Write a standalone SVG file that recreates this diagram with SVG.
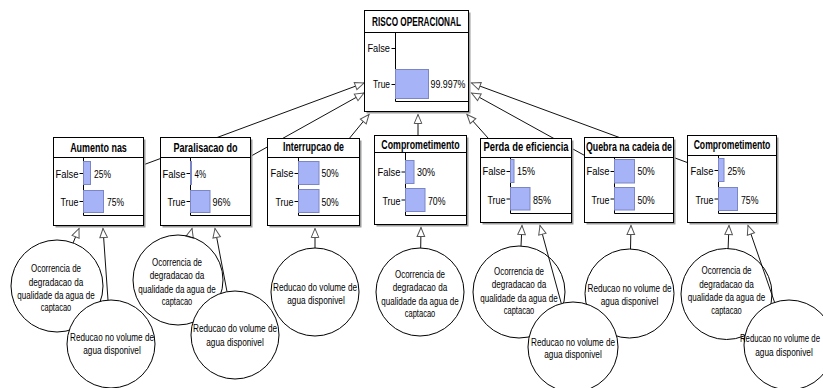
<svg xmlns="http://www.w3.org/2000/svg" width="823" height="388" viewBox="0 0 823 388">
<style>
text{font-family:"Liberation Sans Narrow","Liberation Sans",Arial,sans-serif;fill:#000}
.t{font-weight:bold;font-size:12px;text-anchor:middle}
.l{font-size:11.5px;text-anchor:end}
.p{font-size:11.5px}
.c{font-size:10px;text-anchor:middle}
.sh{fill:#9c9c9c}
.bx{fill:#fff;stroke:#000;stroke-width:1}
.ln{stroke:#000;stroke-width:1;fill:none}
.bar{fill:#a7b3f7;stroke:#7a86c6;stroke-width:1}
.ca{fill:none;stroke:#000;stroke-width:1}
.cb{fill:#fff;stroke:#000;stroke-width:1}
.cn{stroke:#111;stroke-width:1;fill:none;marker-end:url(#arr)}
</style>
<defs>
<marker id="arr" viewBox="-10.5 -5 12 10" refX="0" refY="0" markerWidth="12" markerHeight="10" markerUnits="userSpaceOnUse" orient="auto">
<path d="M0,0 L-9,-3.8 L-9,3.8 Z" fill="#fff" stroke="#555" stroke-width="1"/>
</marker>
</defs>
<rect width="823" height="388" fill="#fff"/>
<g id="connectors">
<path class="cn" d="M98.5,181.5 L364,83"/>
<path class="cn" d="M205.5,181.5 L364,93"/>
<path class="cn" d="M313.5,182 L369,114.5"/>
<path class="cn" d="M418,180 L418,114.5"/>
<path class="cn" d="M526,180.5 L467,114.5"/>
<path class="cn" d="M629,180 L471.5,93"/>
<path class="cn" d="M732,179 L471.5,83"/>
<path class="cn" d="M73.1,242.9 L79,228.5"/>
<path class="cn" d="M108,300.1 L103,228.5"/>
<path class="cn" d="M189.8,236.6 L192,228.5"/>
<path class="cn" d="M227,291.7 L215,228.5"/>
<path class="cn" d="M315,248 L315,228.5"/>
<path class="cn" d="M420.7,248 L421,227.5"/>
<path class="cn" d="M521,246 L522,225.5"/>
<path class="cn" d="M561.3,303.5 L540,225.5"/>
<path class="cn" d="M630.5,249 L631,225.5"/>
<path class="cn" d="M728.1,248.5 L729,225.5"/>
<path class="cn" d="M774.6,302.4 L748,225.5"/>
</g>
<g id="risco-operacional">
<rect class="sh" x="366.5" y="12.5" width="104" height="101"/>
<rect class="bx" x="364.5" y="10.5" width="104" height="101"/>
<path class="ln" d="M364.5,32.5 H468.5 M395.5,32.5 V101.5 H468.5 M391.5,48.5 H395.5 M391.5,84.5 H395.5"/>
<rect class="bar" x="395.5" y="69.5" width="33" height="29"/>
<text class="t" x="416.5" y="26" textLength="89" lengthAdjust="spacingAndGlyphs">RISCO OPERACIONAL</text>
<text class="l" x="390" y="52" textLength="22.6" lengthAdjust="spacingAndGlyphs">False</text>
<text class="l" x="390" y="88" textLength="17" lengthAdjust="spacingAndGlyphs">True</text>
<text class="p" x="430.5" y="88" textLength="35" lengthAdjust="spacingAndGlyphs">99.997%</text>
</g>
<g id="aumento-nas">
<rect class="sh" x="55.5" y="139.5" width="90" height="88"/>
<rect class="bx" x="53.5" y="137.5" width="90" height="88"/>
<path class="ln" d="M53.5,157.5 H143.5 M83.5,157.5 V215.5 H143.5 M79.5,173.5 H83.5 M79.5,201.5 H83.5"/>
<rect class="bar" x="83.5" y="161.5" width="7" height="23"/>
<rect class="bar" x="83.5" y="190.5" width="20" height="22"/>
<text class="t" x="98.5" y="152" textLength="56.7" lengthAdjust="spacingAndGlyphs">Aumento nas</text>
<text class="l" x="78.5" y="177.5" textLength="23" lengthAdjust="spacingAndGlyphs">False</text>
<text class="l" x="78.5" y="206" textLength="18" lengthAdjust="spacingAndGlyphs">True</text>
<text class="p" x="94" y="177.5" textLength="17" lengthAdjust="spacingAndGlyphs">25%</text>
<text class="p" x="107" y="206" textLength="17" lengthAdjust="spacingAndGlyphs">75%</text>
</g>
<g id="paralisacao-do">
<rect class="sh" x="162.5" y="139.5" width="90" height="88"/>
<rect class="bx" x="160.5" y="137.5" width="90" height="88"/>
<path class="ln" d="M160.5,157.5 H250.5 M190.5,157.5 V215.5 H250.5 M186.5,173.5 H190.5 M186.5,201.5 H190.5"/>
<rect class="bar" x="190.5" y="161.5" width="1" height="23"/>
<rect class="bar" x="190.5" y="190.5" width="19.5" height="22"/>
<text class="t" x="205.5" y="152" textLength="64" lengthAdjust="spacingAndGlyphs">Paralisacao do</text>
<text class="l" x="185.5" y="177.5" textLength="23" lengthAdjust="spacingAndGlyphs">False</text>
<text class="l" x="185.5" y="206" textLength="18" lengthAdjust="spacingAndGlyphs">True</text>
<text class="p" x="194.5" y="177.5" textLength="11.5" lengthAdjust="spacingAndGlyphs">4%</text>
<text class="p" x="212.5" y="206" textLength="18" lengthAdjust="spacingAndGlyphs">96%</text>
</g>
<g id="interrupcao-de">
<rect class="sh" x="269.5" y="140.5" width="92" height="87"/>
<rect class="bx" x="267.5" y="138.5" width="92" height="87"/>
<path class="ln" d="M267.5,157.5 H359.5 M298.5,157.5 V215.5 H359.5 M294.5,173.5 H298.5 M294.5,201.5 H298.5"/>
<rect class="bar" x="298.5" y="161.5" width="20.5" height="23"/>
<rect class="bar" x="298.5" y="189.5" width="20.5" height="23"/>
<text class="t" x="313.5" y="151" textLength="61" lengthAdjust="spacingAndGlyphs">Interrupcao de</text>
<text class="l" x="293.5" y="177" textLength="23" lengthAdjust="spacingAndGlyphs">False</text>
<text class="l" x="293.5" y="206" textLength="18" lengthAdjust="spacingAndGlyphs">True</text>
<text class="p" x="321.5" y="177" textLength="17.3" lengthAdjust="spacingAndGlyphs">50%</text>
<text class="p" x="321.5" y="206" textLength="17.3" lengthAdjust="spacingAndGlyphs">50%</text>
</g>
<g id="comprometimento-1">
<rect class="sh" x="376.5" y="137.5" width="92" height="89"/>
<rect class="bx" x="374.5" y="135.5" width="92" height="89"/>
<path class="ln" d="M374.5,152.5 H466.5 M405.5,152.5 V215.5 H466.5 M401.5,172 H405.5 M401.5,200 H405.5"/>
<rect class="bar" x="405.5" y="160.5" width="8.5" height="23"/>
<rect class="bar" x="405.5" y="188.5" width="19.5" height="23"/>
<text class="t" x="420.5" y="148.5" textLength="78.3" lengthAdjust="spacingAndGlyphs">Comprometimento</text>
<text class="l" x="400.5" y="176" textLength="23" lengthAdjust="spacingAndGlyphs">False</text>
<text class="l" x="400.5" y="204.5" textLength="18" lengthAdjust="spacingAndGlyphs">True</text>
<text class="p" x="417" y="176" textLength="18" lengthAdjust="spacingAndGlyphs">30%</text>
<text class="p" x="428" y="204.5" textLength="17.5" lengthAdjust="spacingAndGlyphs">70%</text>
</g>
<g id="perda-de-eficiencia">
<rect class="sh" x="482.5" y="140.5" width="91" height="84"/>
<rect class="bx" x="480.5" y="138.5" width="91" height="84"/>
<path class="ln" d="M480.5,157.5 H571.5 M510.5,157.5 V213.5 H571.5 M506.5,171.5 H510.5 M506.5,199 H510.5"/>
<rect class="bar" x="510.5" y="159.5" width="3.5" height="23"/>
<rect class="bar" x="510.5" y="187.5" width="19.5" height="22.5"/>
<text class="t" x="526" y="151" textLength="85" lengthAdjust="spacingAndGlyphs">Perda de eficiencia</text>
<text class="l" x="505.5" y="175" textLength="23" lengthAdjust="spacingAndGlyphs">False</text>
<text class="l" x="505.5" y="203.5" textLength="18" lengthAdjust="spacingAndGlyphs">True</text>
<text class="p" x="517" y="175" textLength="18" lengthAdjust="spacingAndGlyphs">15%</text>
<text class="p" x="533" y="203.5" textLength="18" lengthAdjust="spacingAndGlyphs">85%</text>
</g>
<g id="quebra-na-cadeia-de">
<rect class="sh" x="586.5" y="139.5" width="89" height="85"/>
<rect class="bx" x="584.5" y="137.5" width="89" height="85"/>
<path class="ln" d="M584.5,157.5 H673.5 M614.5,157.5 V213.5 H673.5 M610.5,171.5 H614.5 M610.5,199 H614.5"/>
<rect class="bar" x="614.5" y="159.5" width="20" height="23.5"/>
<rect class="bar" x="614.5" y="187.5" width="20" height="22.5"/>
<text class="t" x="629" y="151" textLength="86" lengthAdjust="spacingAndGlyphs">Quebra na cadeia de</text>
<text class="l" x="609.5" y="175" textLength="23" lengthAdjust="spacingAndGlyphs">False</text>
<text class="l" x="609.5" y="203.5" textLength="18" lengthAdjust="spacingAndGlyphs">True</text>
<text class="p" x="637.5" y="175" textLength="17.3" lengthAdjust="spacingAndGlyphs">50%</text>
<text class="p" x="637.5" y="203.5" textLength="17.3" lengthAdjust="spacingAndGlyphs">50%</text>
</g>
<g id="comprometimento-2">
<rect class="sh" x="689.5" y="137.5" width="89" height="87"/>
<rect class="bx" x="687.5" y="135.5" width="89" height="87"/>
<path class="ln" d="M687.5,155.5 H776.5 M718.5,155.5 V213.5 H776.5 M714.5,170.5 H718.5 M714.5,199 H718.5"/>
<rect class="bar" x="718.5" y="158.5" width="5.5" height="23"/>
<rect class="bar" x="718.5" y="187.5" width="19" height="23"/>
<text class="t" x="732" y="148.5" textLength="76.7" lengthAdjust="spacingAndGlyphs">Comprometimento</text>
<text class="l" x="713.5" y="175" textLength="23" lengthAdjust="spacingAndGlyphs">False</text>
<text class="l" x="713.5" y="203.5" textLength="18" lengthAdjust="spacingAndGlyphs">True</text>
<text class="p" x="727.5" y="175" textLength="17.5" lengthAdjust="spacingAndGlyphs">25%</text>
<text class="p" x="741" y="203.5" textLength="17.5" lengthAdjust="spacingAndGlyphs">75%</text>
</g>
<g id="ocorrencia-1">
<circle class="ca" cx="57" cy="286" r="46"/>
<text class="c" x="56" y="271.8" textLength="50" lengthAdjust="spacingAndGlyphs">Ocorrencia de</text>
<text class="c" x="56" y="285.5" textLength="54.5" lengthAdjust="spacingAndGlyphs">degradacao da</text>
<text class="c" x="56" y="299" textLength="77.3" lengthAdjust="spacingAndGlyphs">qualidade da agua de</text>
<text class="c" x="56" y="311" textLength="30.5" lengthAdjust="spacingAndGlyphs">captacao</text>
</g>
<g id="ocorrencia-2">
<circle class="ca" cx="178" cy="280" r="45"/>
<text class="c" x="177" y="265.5" textLength="50" lengthAdjust="spacingAndGlyphs">Ocorrencia de</text>
<text class="c" x="177" y="279" textLength="54.5" lengthAdjust="spacingAndGlyphs">degradacao da</text>
<text class="c" x="177" y="292.5" textLength="77.3" lengthAdjust="spacingAndGlyphs">qualidade da agua de</text>
<text class="c" x="177" y="305" textLength="30.5" lengthAdjust="spacingAndGlyphs">captacao</text>
</g>
<g id="ocorrencia-4">
<circle class="ca" cx="420" cy="292" r="44"/>
<text class="c" x="420" y="277.5" textLength="50" lengthAdjust="spacingAndGlyphs">Ocorrencia de</text>
<text class="c" x="420" y="291" textLength="54.5" lengthAdjust="spacingAndGlyphs">degradacao da</text>
<text class="c" x="420" y="304.5" textLength="77.3" lengthAdjust="spacingAndGlyphs">qualidade da agua de</text>
<text class="c" x="420" y="316.5" textLength="30.5" lengthAdjust="spacingAndGlyphs">captacao</text>
</g>
<g id="ocorrencia-5">
<circle class="ca" cx="519" cy="292" r="46"/>
<text class="c" x="519" y="274.5" textLength="50" lengthAdjust="spacingAndGlyphs">Ocorrencia de</text>
<text class="c" x="519" y="288" textLength="54.5" lengthAdjust="spacingAndGlyphs">degradacao da</text>
<text class="c" x="519" y="301.5" textLength="77.3" lengthAdjust="spacingAndGlyphs">qualidade da agua de</text>
<text class="c" x="519" y="313.5" textLength="30.5" lengthAdjust="spacingAndGlyphs">captacao</text>
</g>
<g id="ocorrencia-7">
<circle class="ca" cx="726.5" cy="294" r="45.5"/>
<text class="c" x="726.5" y="274" textLength="50" lengthAdjust="spacingAndGlyphs">Ocorrencia de</text>
<text class="c" x="726.5" y="287.5" textLength="54.5" lengthAdjust="spacingAndGlyphs">degradacao da</text>
<text class="c" x="726.5" y="301" textLength="77.3" lengthAdjust="spacingAndGlyphs">qualidade da agua de</text>
<text class="c" x="726.5" y="313.5" textLength="30.5" lengthAdjust="spacingAndGlyphs">captacao</text>
</g>
<g id="reducao-3">
<circle class="ca" cx="315" cy="292" r="44"/>
<text class="c" x="315" y="290.5" textLength="84" lengthAdjust="spacingAndGlyphs">Reducao do volume de</text>
<text class="c" x="316" y="303.5" textLength="57.5" lengthAdjust="spacingAndGlyphs">agua disponivel</text>
</g>
<g id="reducao-6">
<circle class="ca" cx="629.5" cy="293.5" r="44.5"/>
<text class="c" x="629.5" y="291.5" textLength="84" lengthAdjust="spacingAndGlyphs">Reducao no volume de</text>
<text class="c" x="629.5" y="305" textLength="57.5" lengthAdjust="spacingAndGlyphs">agua disponivel</text>
</g>
<g id="reducao-1">
<circle class="cb" cx="111" cy="344" r="44"/>
<text class="c" x="112" y="340.5" textLength="84" lengthAdjust="spacingAndGlyphs">Reducao no volume de</text>
<text class="c" x="112" y="354" textLength="57.5" lengthAdjust="spacingAndGlyphs">agua disponivel</text>
</g>
<g id="reducao-2">
<circle class="cb" cx="235" cy="335" r="44"/>
<text class="c" x="235" y="331.5" textLength="84" lengthAdjust="spacingAndGlyphs">Reducao do volume de</text>
<text class="c" x="235" y="345.5" textLength="57.5" lengthAdjust="spacingAndGlyphs">agua disponivel</text>
</g>
<g id="reducao-5">
<circle class="cb" cx="573" cy="347" r="45"/>
<text class="c" x="573" y="345.5" textLength="84" lengthAdjust="spacingAndGlyphs">Reducao no volume de</text>
<text class="c" x="573" y="358" textLength="57.5" lengthAdjust="spacingAndGlyphs">agua disponivel</text>
</g>
<g id="reducao-7">
<circle class="cb" cx="789" cy="345" r="45"/>
<text class="c" x="780" y="341.5" textLength="80" lengthAdjust="spacingAndGlyphs">Reducao no volume de</text>
<text class="c" x="784" y="355.5" textLength="57.5" lengthAdjust="spacingAndGlyphs">agua disponivel</text>
</g>
</svg>
